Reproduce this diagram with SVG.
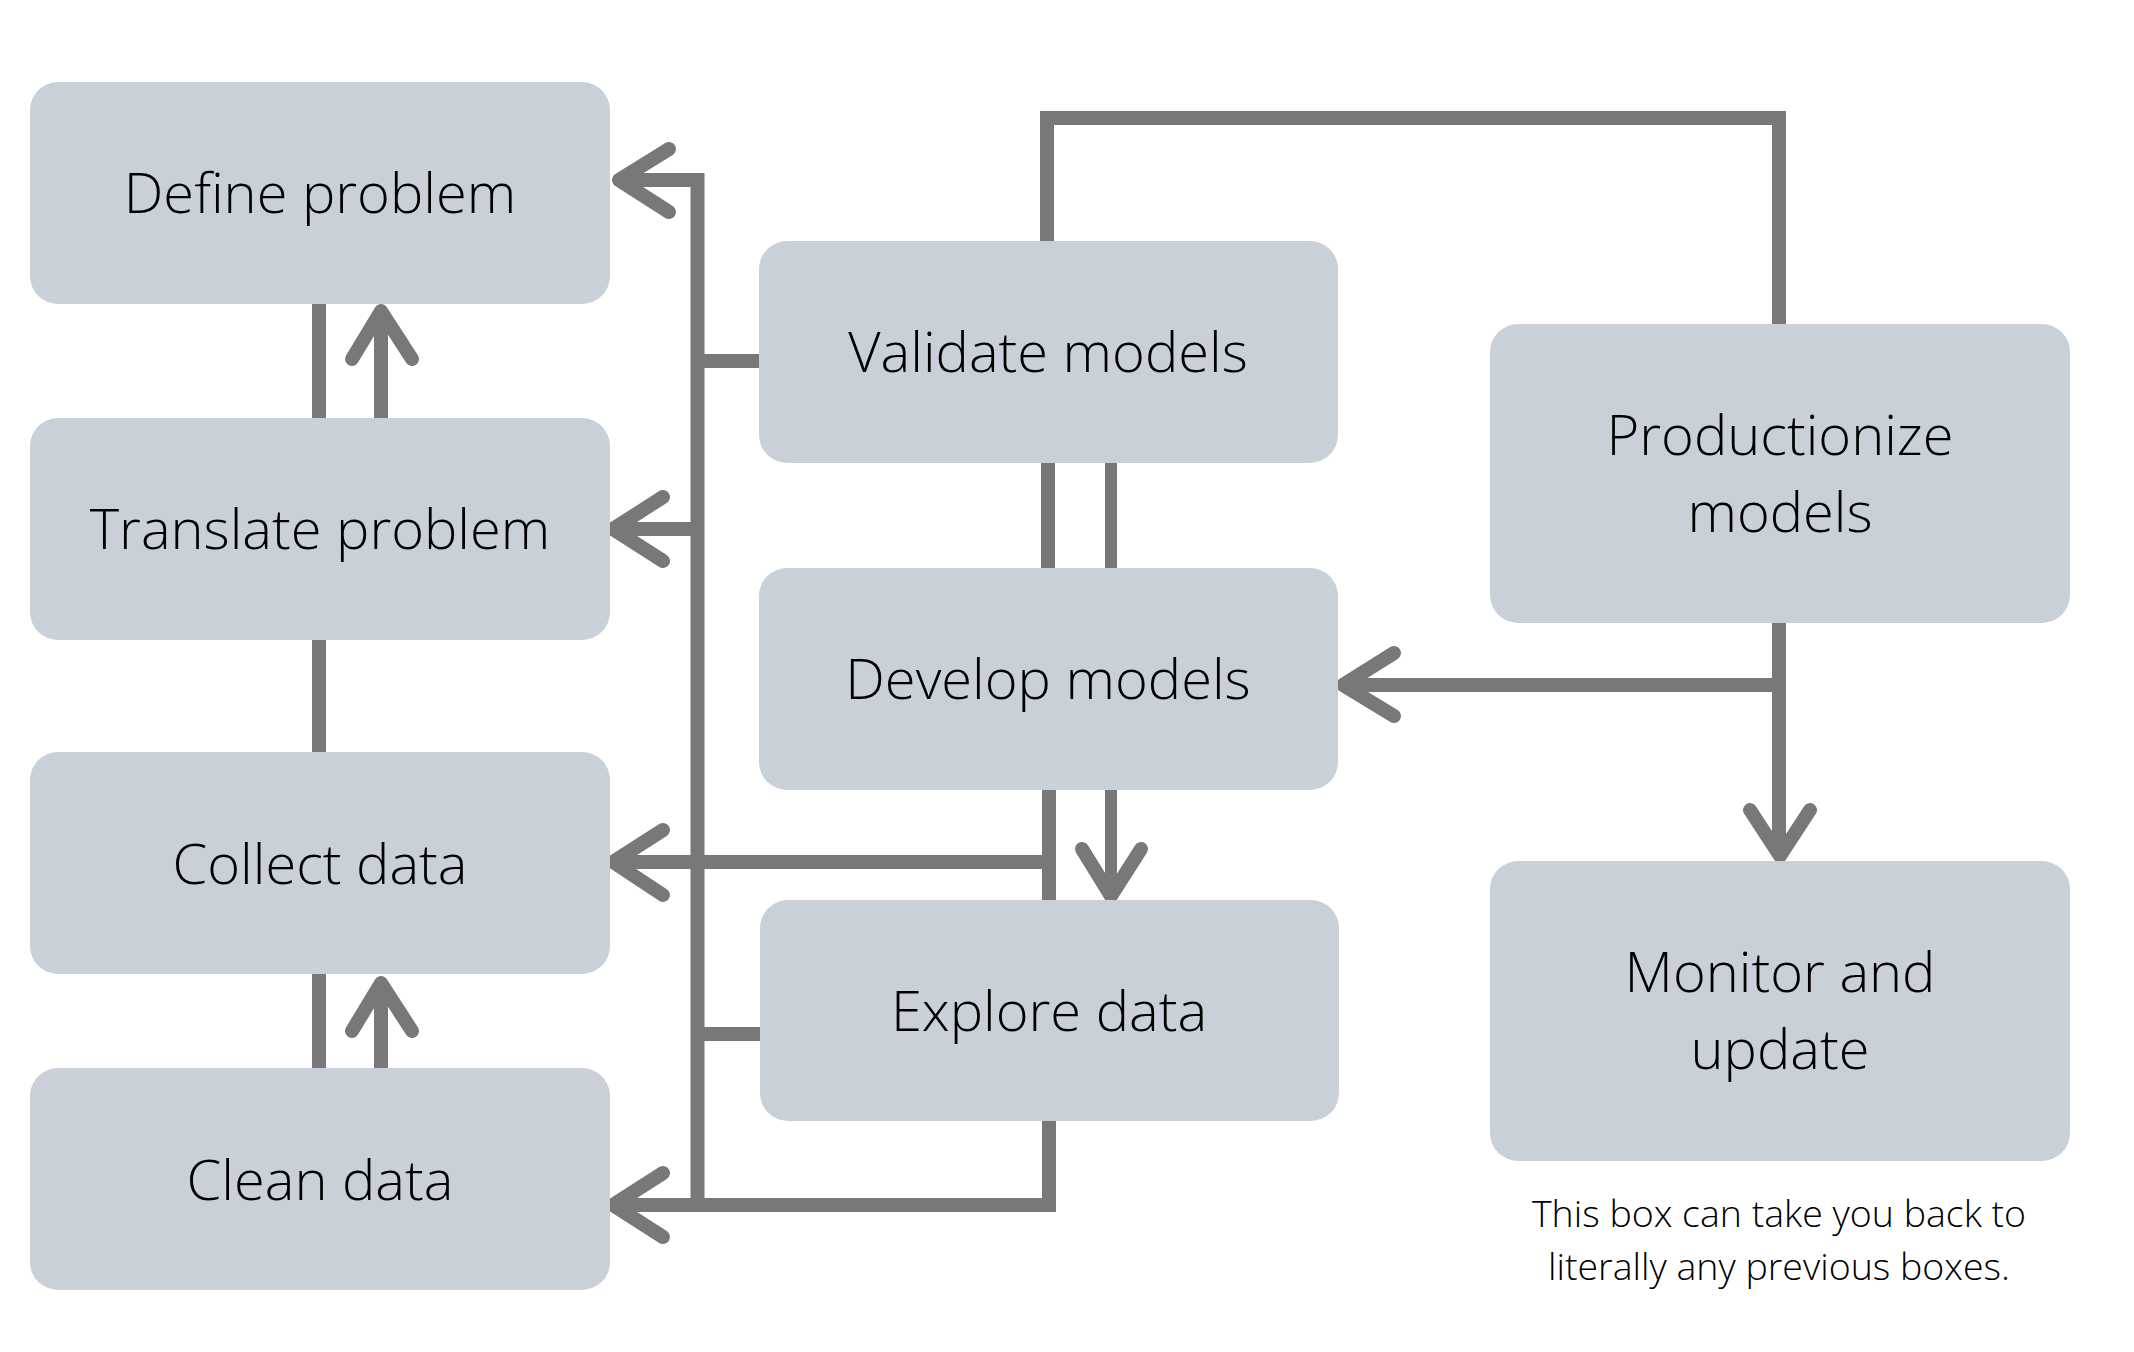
<svg xmlns="http://www.w3.org/2000/svg" width="2134" height="1352" viewBox="0 0 2134 1352">
<style>
.box{fill:#c9d0d8;}
.lbl{font-family:"Open Sans","Noto Sans",sans-serif;font-weight:300;font-size:56px;fill:#000;text-anchor:middle;}
.cap{font-family:"Open Sans","Noto Sans",sans-serif;font-weight:300;font-size:37.5px;fill:#000;text-anchor:middle;}
.ln{fill:none;stroke:#787878;stroke-width:14;stroke-linejoin:miter;stroke-linecap:butt;}
.ah{fill:none;stroke:#787878;stroke-width:14;stroke-linejoin:round;stroke-linecap:round;}
</style>
<rect width="2134" height="1352" fill="#ffffff"/>
<g id="connectors">
  <path class="ln" d="M319,304 V418"/>
  <path class="ln" d="M381,418 V312"/>
  <path class="ah" d="M352,359 L381,311 L412,359"/>
  <path class="ln" d="M319,640 V752"/>
  <path class="ln" d="M319,974 V1068"/>
  <path class="ln" d="M381,1068 V984"/>
  <path class="ah" d="M352,1031 L381,983 L412,1031"/>
  <path class="ln" d="M621,180 H697.5 V1205"/>
  <path class="ah" d="M669,149 L619,180 L669,212"/>
  <path class="ln" d="M614,529 H698"/>
  <path class="ah" d="M663,497 L613,529 L663,561"/>
  <path class="ln" d="M698,361 H760"/>
  <path class="ln" d="M698,1034 H761"/>
  <path class="ln" d="M614,862 H1049"/>
  <path class="ah" d="M663,830 L613,862 L663,895"/>
  <path class="ln" d="M614,1205 H1049 V1121"/>
  <path class="ah" d="M663,1173 L613,1205 L663,1237"/>
  <path class="ln" d="M1049,790 V900"/>
  <path class="ln" d="M1048,463 V568"/>
  <path class="ln" d="M1111,463 V568" style="stroke-width:12"/>
  <path class="ln" d="M1111,790 V895" style="stroke-width:12"/>
  <path class="ah" d="M1082,849 L1111,896 L1141,849"/>
  <path class="ln" d="M1047,241 V118 H1779 V324"/>
  <path class="ln" d="M1779,623 V855"/>
  <path class="ah" d="M1750,810 L1780,856 L1810,810"/>
  <path class="ln" d="M1779,685 H1344"/>
  <path class="ah" d="M1394,653 L1343,685 L1394,716"/>
</g>
<g id="define-problem">
  <rect class="box" x="30" y="82" width="580" height="222" rx="28"/>
  <text class="lbl" x="320" y="213">Define problem</text>
</g>
<g id="translate-problem">
  <rect class="box" x="30" y="418" width="580" height="222" rx="28"/>
  <text class="lbl" x="320" y="549">Translate problem</text>
</g>
<g id="collect-data">
  <rect class="box" x="30" y="752" width="580" height="222" rx="28"/>
  <text class="lbl" x="320" y="884">Collect data</text>
</g>
<g id="clean-data">
  <rect class="box" x="30" y="1068" width="580" height="222" rx="28"/>
  <text class="lbl" x="320" y="1200">Clean data</text>
</g>
<g id="validate-models">
  <rect class="box" x="759" y="241" width="579" height="222" rx="28"/>
  <text class="lbl" x="1048" y="372">Validate models</text>
</g>
<g id="develop-models">
  <rect class="box" x="759" y="568" width="579" height="222" rx="28"/>
  <text class="lbl" x="1048" y="699">Develop models</text>
</g>
<g id="explore-data">
  <rect class="box" x="760" y="900" width="579" height="221" rx="28"/>
  <text class="lbl" x="1049" y="1031">Explore data</text>
</g>
<g id="productionize-models">
  <rect class="box" x="1490" y="324" width="580" height="299" rx="28"/>
  <text class="lbl" x="1780" y="455">Productionize</text>
  <text class="lbl" x="1780" y="532">models</text>
</g>
<g id="monitor-and-update">
  <rect class="box" x="1490" y="861" width="580" height="300" rx="28"/>
  <text class="lbl" x="1780" y="992">Monitor and</text>
  <text class="lbl" x="1780" y="1069">update</text>
</g>
<g id="caption">
  <text class="cap" x="1779" y="1227">This box can take you back to</text>
  <text class="cap" x="1779" y="1280">literally any previous boxes.</text>
</g>
</svg>
